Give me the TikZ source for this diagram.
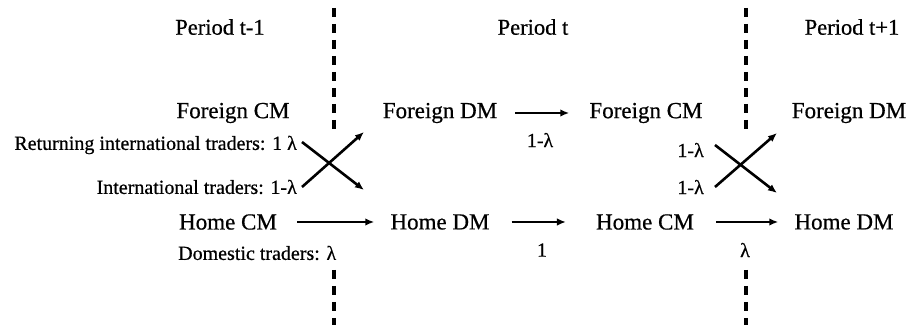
\documentclass[tikz,border=0pt]{standalone}
\usepackage{fontspec}
\setmainfont{Liberation Serif}[FakeBold=0.6]
\usetikzlibrary{arrows.meta}
\begin{document}
\begin{tikzpicture}[x=1pt,y=-1pt,
  big/.style={font=\fontsize{23}{26}\selectfont, inner sep=0pt},
  per/.style={font=\fontsize{22.5}{25}\selectfont, inner sep=0pt},
  small/.style={font=\fontsize{20}{23}\selectfont, inner sep=0pt},
  arr/.style={line width=2.6pt, -{Latex[length=9pt,width=7.5pt]}},
  sep/.style={line width=3.2pt, dash pattern=on 9pt off 7pt}]
\useasboundingbox (0,0) rectangle (908,328);
% period labels
\node[per] (p1) at (220,27) {Period t-1};
\node[per] (p2) at (533,27) {Period t};
\node[per] (p3) at (852,27) {Period t+1};
% separators
\coordinate (s1a) at (334,8);  \coordinate (s1b) at (334,134);
\coordinate (s1c) at (334,270); \coordinate (s1d) at (334,325);
\coordinate (s2a) at (746,8);  \coordinate (s2b) at (746,134);
\coordinate (s2c) at (746,270); \coordinate (s2d) at (746,325);
\draw[sep] (s1a) -- (s1b);
\draw[sep] (s1c) -- (s1d);
\draw[sep] (s2a) -- (s2b);
\draw[sep] (s2c) -- (s2d);
% nodes
\node[big] (fcm1) at (233,113) {Foreign CM};
\node[big] (hcm1) at (228,222) {Home CM};
\node[small, anchor=east] (ret) at (297,145) {Returning international traders: 1 λ};
\node[small, anchor=east] (int) at (297,187) {International traders: 1-λ};
\node[small, anchor=west] (dom) at (178,253) {Domestic traders: λ};
\node[big] (fdm2) at (440,113) {Foreign DM};
\node[big] (hdm2) at (440,222) {Home DM};
\node[big] (fcm2) at (646,113) {Foreign CM};
\node[big] (hcm2) at (645,222) {Home CM};
\node[big] (fdm3) at (849,113) {Foreign DM};
\node[big] (hdm3) at (844,222) {Home DM};
\node[small] (l1) at (540,140) {1-λ};
\node[small] (l2) at (542,250) {1};
\node[small] (l3) at (745,250) {λ};
\node[small, anchor=east] (r1) at (704,150) {1-λ};
\node[small, anchor=east] (r2) at (704,187) {1-λ};
% cross coordinates
\coordinate (a1) at (302,142); \coordinate (a2) at (364,190);
\coordinate (b1) at (302,187); \coordinate (b2) at (364,132);
\coordinate (c1) at (715,145); \coordinate (c2) at (777,193);
\coordinate (d1) at (715,187); \coordinate (d2) at (777,133);
% connectors
\draw[arr] (a1) -- (a2);
\draw[arr] (b1) -- (b2);
\draw[arr] (c1) -- (c2);
\draw[arr] (d1) -- (d2);
\draw[arr, shorten <=20pt, shorten >=16pt] (hcm1.east) -- (hdm2.west);
\draw[arr, shorten <=18pt, shorten >=20pt] (fdm2.east) -- (fcm2.west);
\draw[arr, shorten <=22pt, shorten >=30pt] (hdm2.east) -- (hcm2.west);
\draw[arr, shorten <=22pt, shorten >=16pt] (hcm2.east) -- (hdm3.west);
\end{tikzpicture}
\end{document}
